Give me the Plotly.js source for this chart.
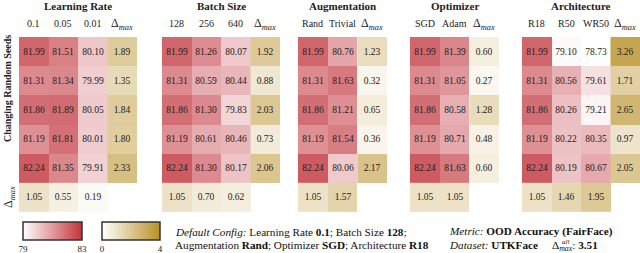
<!DOCTYPE html>
<html>
<head>
<meta charset="utf-8">
<script src="https://cdn.plot.ly/plotly-3.0.1.min.js"></script>
<style>html,body{margin:0;padding:0;background:#fff;}#chart{width:640px;height:253px;}</style>
</head>
<body>
<div id="chart"></div>
<script>
// ---------- data ----------
const defaultSeeds = [81.99, 81.31, 81.86, 81.19, 82.24];

const lrLabels = ['0.1', '0.05', '0.01'];
const lr005 = [81.51, 81.34, 81.89, 81.81, 81.35];
const lr001 = [80.10, 79.99, 80.05, 80.01, 79.91];
const lrDeltaCol = [1.89, 1.35, 1.84, 1.80, 2.33];
const lrDeltaRow = [1.05, 0.55, 0.19];

const bsLabels = ['128', '256', '640'];
const bs256 = [81.26, 80.59, 81.30, 80.61, 81.30];
const bs640 = [80.07, 80.44, 79.83, 80.46, 80.17];
const bsDeltaCol = [1.92, 0.88, 2.03, 0.73, 2.06];
const bsDeltaRow = [1.05, 0.70, 0.62];

const augLabels = ['Rand', 'Trivial'];
const augTrivial = [80.76, 81.63, 81.21, 81.54, 80.06];
const augDeltaCol = [1.23, 0.32, 0.65, 0.36, 2.17];
const augDeltaRow = [1.05, 1.57];

const optLabels = ['SGD', 'Adam'];
const optAdam = [81.39, 81.05, 80.58, 80.71, 81.63];
const optDeltaCol = [0.60, 0.27, 1.28, 0.48, 0.60];
const optDeltaRow = [1.05, 1.05];

const archLabels = ['R18', 'R50', 'WR50'];
const archR50 = [79.10, 80.56, 80.26, 80.22, 80.19];
const archWR50 = [78.73, 79.61, 79.21, 80.35, 80.67];
const archDeltaCol = [3.26, 1.71, 2.65, 0.97, 2.05];
const archDeltaRow = [1.05, 1.46, 1.95];

const panelTitles = ['Learning Rate', 'Batch Size', 'Augmentation', 'Optimizer', 'Architecture'];
const allDelta = 3.51;

// ---------- layout helpers ----------
const W = 640, H = 253;
const px = x => x / W;
const py = y => 1 - y / H;
const panelPx = [[19, 137], [162, 280], [298, 387], [410, 499], [522, 640]];
const rowTop = 37, rowBot = 212;

const panels = [
  {labels: lrLabels, cols: [defaultSeeds, lr005, lr001], dCol: lrDeltaCol, dRow: lrDeltaRow},
  {labels: bsLabels, cols: [defaultSeeds, bs256, bs640], dCol: bsDeltaCol, dRow: bsDeltaRow},
  {labels: augLabels, cols: [defaultSeeds, augTrivial], dCol: augDeltaCol, dRow: augDeltaRow},
  {labels: optLabels, cols: [defaultSeeds, optAdam], dCol: optDeltaCol, dRow: optDeltaRow},
  {labels: archLabels, cols: [defaultSeeds, archR50, archWR50], dCol: archDeltaCol, dRow: archDeltaRow},
];

const FONT = 'Liberation Serif, Times New Roman, serif';
const redScale = [[0, 'rgb(255,255,255)'], [1, 'rgb(194,52,60)']];
const goldScale = [[0, 'rgb(255,255,255)'], [1, 'rgb(185,145,40)']];
const cellFont = {family: FONT, size: 9.5, color: '#222'};

const traces = [];
const layout = {
  width: W, height: H,
  margin: {l: 0, r: 0, t: 0, b: 0, autoexpand: false},
  paper_bgcolor: '#fff', plot_bgcolor: '#fff',
  font: {family: FONT, color: '#222'},
  showlegend: false,
  annotations: [],
};

const cbCommon = {orientation: 'h', xanchor: 'left', y: py(222), yanchor: 'top',
  lenmode: 'pixels', thickness: 18, thicknessmode: 'pixels', xpad: 0, ypad: 0,
  outlinewidth: 1.5, outlinecolor: '#333', ticks: '', ticklen: 0,
  tickfont: {family: FONT, size: 9, color: '#222'}};

panels.forEach((p, k) => {
  const n = p.cols.length;
  const ax = k === 0 ? '' : String(k + 1);
  const xa = 'x' + ax, ya = 'y' + ax;
  layout['xaxis' + ax] = {
    domain: [px(panelPx[k][0]), px(panelPx[k][1])], range: [-0.5, n + 0.5],
    showgrid: false, zeroline: false, showticklabels: false, ticks: '', fixedrange: true, anchor: ya,
  };
  layout['yaxis' + ax] = {
    domain: [py(rowBot), py(rowTop)], range: [5.5, -0.5],
    showgrid: false, zeroline: false, showticklabels: false, ticks: '', fixedrange: true, anchor: xa,
  };
  const zRed = defaultSeeds.map((_, i) => p.cols.map(c => c[i]));
  traces.push({
    type: 'heatmap', xaxis: xa, yaxis: ya, x0: 0, dx: 1, y0: 0, dy: 1, z: zRed,
    colorscale: redScale, zmin: 79, zmax: 83, showscale: k === 0,
    texttemplate: '%{z:.2f}', textfont: cellFont, hoverinfo: 'skip',
    colorbar: Object.assign({}, cbCommon, {x: px(23), len: 59, tickvals: [79, 83], ticktext: ['79', '83']}),
  });
  traces.push({
    type: 'heatmap', xaxis: xa, yaxis: ya, x0: n, dx: 1, y0: 0, dy: 1, z: p.dCol.map(v => [v]),
    colorscale: goldScale, zmin: 0, zmax: 4, showscale: k === 0,
    texttemplate: '%{z:.2f}', textfont: cellFont, hoverinfo: 'skip',
    colorbar: Object.assign({}, cbCommon, {x: px(102), len: 58, tickvals: [0, 4], ticktext: ['0', '4']}),
  });
  traces.push({
    type: 'heatmap', xaxis: xa, yaxis: ya, x0: 0, dx: 1, y0: 5, dy: 1, z: [p.dRow],
    colorscale: goldScale, zmin: 0, zmax: 4, showscale: false,
    texttemplate: '%{z:.2f}', textfont: cellFont, hoverinfo: 'skip',
  });
  layout.annotations.push({
    xref: 'paper', yref: 'paper', x: px((panelPx[k][0] + panelPx[k][1]) / 2), y: py(6),
    text: '<b>' + panelTitles[k] + '</b>', showarrow: false, xanchor: 'center', yanchor: 'middle',
    font: {family: FONT, size: 11, color: '#222'},
  });
  p.labels.forEach((lab, j) => {
    layout.annotations.push({
      xref: xa, yref: 'paper', x: j, y: py(23), text: lab, showarrow: false,
      xanchor: 'center', yanchor: 'middle', font: {family: FONT, size: 10, color: '#222'},
    });
  });
  layout.annotations.push({
    xref: xa, yref: 'paper', x: n, y: py(24), text: 'Δ<sub><i>max</i></sub>', showarrow: false,
    xanchor: 'center', yanchor: 'middle', font: {family: FONT, size: 12, color: '#222'},
  });
});

layout.annotations.push({
  xref: 'paper', yref: 'paper', x: px(8), y: py(89), text: '<b>Changing Random Seeds</b>',
  textangle: -90, showarrow: false, xanchor: 'center', yanchor: 'middle',
  font: {family: FONT, size: 10, color: '#222'},
});
layout.annotations.push({
  xref: 'paper', yref: 'paper', x: px(9), y: py(197), text: 'Δ<sub><i>max</i></sub>',
  textangle: -90, showarrow: false, xanchor: 'center', yanchor: 'middle',
  font: {family: FONT, size: 12, color: '#222'},
});

const bottomFont = {family: FONT, size: 11.2, color: '#111'};
[
  [173, 231.5, '<i>Default Config:</i> Learning Rate <b>0.1</b>; Batch Size <b>128</b>;'],
  [173, 245, 'Augmentation <b>Rand</b>; Optimizer <b>SGD</b>; Architecture <b>R18</b>'],
  [447, 231.5, '<i>Metric:</i> <b>OOD Accuracy (FairFace)</b>'],
  [447, 245, '<i>Dataset:</i> <b>UTKFace</b>'],
  [550, 246, 'Δ<sub><i>max</i></sub>: <b>' + allDelta.toFixed(2) + '</b>'],
].forEach(([x, y, t]) => {
  layout.annotations.push({
    xref: 'paper', yref: 'paper', x: px(x), y: py(y), text: t, showarrow: false,
    xanchor: 'left', yanchor: 'middle', font: bottomFont,
  });
});
layout.annotations.push({
  xref: 'paper', yref: 'paper', x: px(559.5), y: py(241.5), text: '<i>all</i>', showarrow: false,
  xanchor: 'left', yanchor: 'middle', font: {family: FONT, size: 7, color: '#111'},
});

Plotly.newPlot('chart', traces, layout, {staticPlot: true, displayModeBar: false});
</script>
</body>
</html>
